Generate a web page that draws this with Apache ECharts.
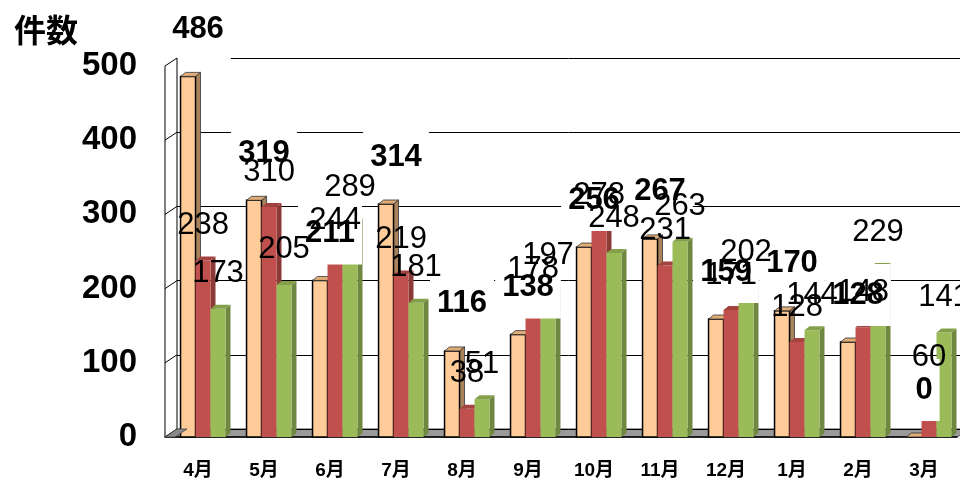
<!DOCTYPE html>
<html>
<head>
<meta charset="utf-8">
<script src="https://cdn.jsdelivr.net/npm/echarts@6/dist/echarts.min.js"></script>
<style>
  html, body { margin: 0; padding: 0; background: #fff; }
  #chart { width: 960px; height: 488px; }
</style>
</head>
<body>
<div id="chart"></div>
<script>
  // 月
  const months = ['4月', '5月', '6月', '7月', '8月', '9月', '10月', '11月', '12月', '1月', '2月', '3月'];
  // 三系列の件数
  const orangeVals = [486, 319, 211, 314, 116, 138, 256, 267, 159, 170, 128, 0];
  const redVals = [238, 310, 244, 219, 38, 178, 278, 231, 171, 128, 148, 60];
  const greenVals = [173, 205, 289, 181, 51, 197, 248, 263, 202, 144, 229, 141];
  const yTicks = [0, 100, 200, 300, 400, 500];

  const chart = echarts.init(document.getElementById('chart'));

  // 3D の奥行き
  const DX = 12, DY = 8;
  const G = { left: 165, right: 3, top: 66, bottom: 51 };
  const W = 960, H = 488;
  const baseY = H - G.bottom;
  const plotH = H - G.top - G.bottom;
  const yOf = v => G.top + (1 - v / 500) * plotH;

  const faces = [
    { front: '#FFCC99', side: '#A9825C', top: '#E0AC78', stroke: '#000' },
    { front: '#C0504D', side: '#8C3A38', top: '#A34340', stroke: null },
    { front: '#9BBB59', side: '#6F8740', top: '#84A04B', stroke: null }
  ];

  function barItem(k) {
    return function (params, api) {
      const i = api.value(0), v = api.value(1);
      const band = api.size([1, 0])[0];
      const top = api.coord([i, v]);
      const base = api.coord([i, 0]);
      const w = band * 0.227;
      const cx = top[0] + band * 0.076 + (k - 1) * w;
      const x0 = cx - w / 2, x1 = cx + w / 2;
      const d = 5, e = 4;
      const f = faces[k];
      const lw = f.stroke ? 1.5 : 0;
      return {
        type: 'group',
        children: [
          { type: 'polygon', shape: { points: [[x1, top[1]], [x1 + d, top[1] - e], [x1 + d, base[1] - e], [x1, base[1]]] },
            style: { fill: f.side, stroke: f.stroke ? '#333' : null, lineWidth: f.stroke ? 0.8 : 0 } },
          { type: 'rect', shape: { x: x0, y: top[1], width: w, height: base[1] - top[1] },
            style: { fill: f.front, stroke: f.stroke, lineWidth: lw } },
          { type: 'polygon', shape: { points: [[x0, top[1]], [x0 + d, top[1] - e], [x1 + d, top[1] - e], [x1, top[1]]] },
            style: { fill: f.top, stroke: f.stroke ? '#333' : null, lineWidth: f.stroke ? 0.8 : 0 } }
        ]
      };
    };
  }

  // ラベル（オレンジのラベルだけ白い背景、文字は後で描く）
  function labelItem(withBox) {
    return function (params, api) {
      const i = api.value(0);
      const band = api.size([1, 0])[0];
      const children = [];
      for (let k = 0; k < 3; k++) {
        if (withBox && k > 0) continue;
        const v = api.value(k + 1);
        const p = api.coord([i, v]);
        const w = band * 0.227;
        const cx = k === 0 ? p[0] : p[0] + band * 0.076 + (k - 1) * w;
        children.push({
          type: 'text',
          x: cx,
          y: p[1] - (k === 0 ? 47 : 35),
          style: {
            text: String(v),
            font: (k === 0 ? 'bold ' : '') + '31px "Liberation Sans", Arial, sans-serif',
            fill: withBox ? 'rgba(0,0,0,0)' : '#000',
            align: 'center',
            verticalAlign: 'middle',
            lineHeight: 32,
            padding: [15, 7],
            backgroundColor: withBox ? '#fff' : null
          }
        });
      }
      return { type: 'group', children: children };
    };
  }

  const labelRows = months.map((m, i) => [i, orangeVals[i], redVals[i], greenVals[i]]);

  // 左の壁と床
  const wallTicks = yTicks.slice(1, -1).map(v => ({
    type: 'line', z: 5,
    shape: { x1: G.left, y1: yOf(v), x2: G.left + DX, y2: yOf(v) - DY },
    style: { stroke: '#000', lineWidth: 1 }
  }));

  const option = {
    animation: false,
    title: {
      text: '件数', left: 9, top: 9,
      textStyle: { fontFamily: '"Noto Sans CJK JP"', fontWeight: 'bold', fontSize: 32, color: '#000' }
    },
    graphic: [
      { type: 'polygon', z: 0,
        shape: { points: [[G.left, baseY], [W - G.right, baseY], [W - G.right + DX, baseY - DY], [G.left + DX, baseY - DY]] },
        style: { fill: '#9a9a9a', stroke: '#444', lineWidth: 1 } },
      { type: 'polygon', z: 5,
        shape: { points: [[G.left, baseY], [G.left, G.top], [G.left + DX, G.top - DY], [G.left + DX, baseY - DY]] },
        style: { fill: 'rgba(255,255,255,0)', stroke: '#000', lineWidth: 1 } },
      { type: 'polygon', z: 5,
        shape: { points: [[G.left, baseY], [G.left + DX, baseY - DY], [G.left + DX + 10, baseY - DY], [G.left + 10, baseY]] },
        style: { fill: '#8a8a8a', stroke: '#444', lineWidth: 0.8 } }
    ].concat(wallTicks),
    grid: [
      { left: G.left, right: G.right, top: G.top, bottom: G.bottom },
      { left: G.left + DX, right: G.right - DX, top: G.top - DY, bottom: G.bottom + DY }
    ],
    xAxis: [
      {
        type: 'category', data: months, gridIndex: 0,
        axisLine: { lineStyle: { color: '#000', width: 1.5 } },
        axisTick: { inside: true, length: 7, lineStyle: { color: '#555' } },
        axisLabel: {
          margin: 24, color: '#000', fontWeight: 'bold', fontSize: 19,
          fontFamily: '"Liberation Sans", "Noto Sans CJK JP"'
        }
      },
      { type: 'category', data: months, gridIndex: 1, show: false }
    ],
    yAxis: [
      {
        type: 'value', gridIndex: 0, min: 0, max: 500, interval: 100,
        axisLine: { show: false }, axisTick: { show: false }, splitLine: { show: false },
        axisLabel: {
          margin: 28, color: '#000', fontWeight: 'bold', fontSize: 33,
          fontFamily: '"Liberation Sans", Arial', padding: [10, 0, 0, 0]
        }
      },
      {
        type: 'value', gridIndex: 1, min: 0, max: 500, interval: 100,
        axisLine: { show: false }, axisTick: { show: false }, axisLabel: { show: false },
        splitLine: { lineStyle: { color: '#000', width: 1 } }
      }
    ],
    series: [
      { type: 'custom', name: 'A', z: 2, renderItem: barItem(0), encode: { x: 0, y: 1 },
        data: orangeVals.map((v, i) => [i, v]) },
      { type: 'custom', name: 'B', z: 2, renderItem: barItem(1), encode: { x: 0, y: 1 },
        data: redVals.map((v, i) => [i, v]) },
      { type: 'custom', name: 'C', z: 2, renderItem: barItem(2), encode: { x: 0, y: 1 },
        data: greenVals.map((v, i) => [i, v]) },
      { type: 'custom', z: 3, silent: true, renderItem: labelItem(true), encode: { x: 0, y: 1 },
        data: labelRows },
      { type: 'custom', z: 4, silent: true, renderItem: labelItem(false), encode: { x: 0, y: 1 },
        data: labelRows }
    ]
  };

  chart.setOption(option);
</script>
</body>
</html>
